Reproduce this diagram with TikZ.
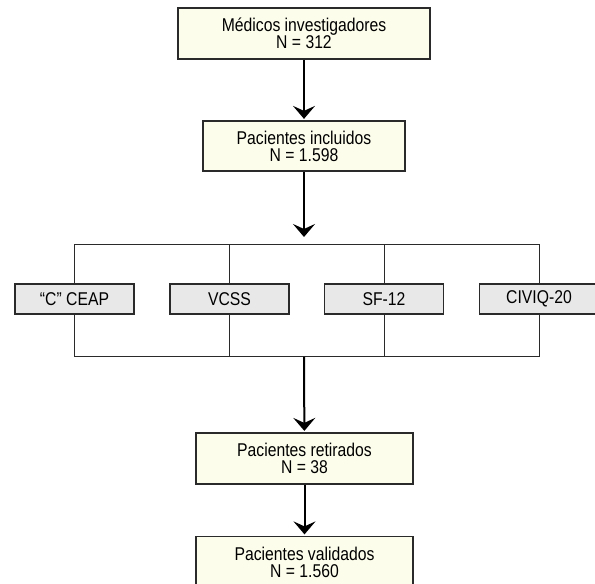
\documentclass[tikz,border=0pt]{standalone}
\usepackage{fontspec}
\setmainfont{Liberation Sans}[FakeStretch=0.85]
\usetikzlibrary{arrows.meta}
\definecolor{cream}{RGB}{253,253,236}
\definecolor{lgray}{RGB}{232,232,232}
\tikzset{
    box/.style={
        rectangle, draw={rgb:black,5;white,1}, line width=1.2pt, fill=cream,
        minimum width=217pt, minimum height=51pt, align=center,
        inner sep=0pt, font=\fontsize{18.5}{17}\selectfont
    },
    qbox/.style={
        rectangle, draw={rgb:black,5;white,1}, line width=1.1pt, fill=lgray,
        minimum width=119pt, minimum height=30pt, align=center,
        inner sep=0pt, font=\fontsize{18.5}{17}\selectfont
    },
    mm/.style={
        line width=2pt, shorten >=1.5pt,
        -{Stealth[length=13pt, width=22pt, inset=5pt]}
    },
    ll/.style={
        line width=1pt, draw={rgb:black,5;white,1}
    }
}
\begin{document}
\begin{tikzpicture}[x=1pt, y=1pt]
        \useasboundingbox (0,0) rectangle (595,584);
        % \draw[help lines, step=50] (0,0) grid (595,584);

        \node[box, minimum width=252pt] (medicos)   at (304,550.5) {Médicos investigadores\\N = 312};
        \node[box, minimum width=202pt, minimum height=50pt] (incluidos) at (304,438) {Pacientes incluidos\\N = 1.598};

        % Questionnaires

        \node[qbox] (ceap)   at (74.5,285)  {“C” CEAP};
        \node[qbox] (vcss)   at (229.5,285) {VCSS};
        \node[qbox] (sf)     at (384,285)   {SF-12};
        \node[qbox] (civiq)  at (539,285)   {CIVIQ-20};

        \coordinate (topl)  at (74.5,339);
        \coordinate (topr)  at (539,339);
        \coordinate (botl)  at (74.5,227);
        \coordinate (botr)  at (539,227);
        \coordinate (join)  at (304,347);
        \coordinate (split) at (304,227);

        \draw[ll] (ceap.north) -- (topl) -- (topr) -- (civiq.north)
                (vcss.north) -- (vcss.north |- topl)
                (sf.north) -- (sf.north |- topl);
        \draw[ll] (ceap.south) -- (botl) -- (botr) -- (civiq.south)
                (vcss.south) -- (vcss.south |- botl)
                (sf.south) -- (sf.south |- botl);

        % Patients

        \node[box] (retirados) at (304.5,125.5) {Pacientes retirados\\N = 38};
        \node[box] (validados) at (304.5,22)    {Pacientes validados\\N = 1.560};

        \path (medicos) edge[mm] (incluidos)
                (incluidos) edge[mm, shorten >=0pt] (join)
                (split) edge[mm] (retirados)
                (retirados) edge[mm] (validados);
    \end{tikzpicture}
\end{document}
